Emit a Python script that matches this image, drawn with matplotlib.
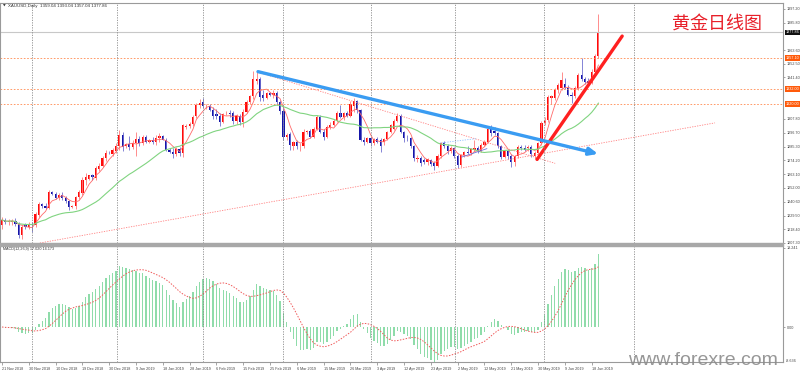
import numpy as np
import pandas as pd
import matplotlib
matplotlib.use("Agg")
import matplotlib.pyplot as plt
from matplotlib.transforms import blended_transform_factory

plt.rcParams['font.family'] = ['Liberation Sans', 'DejaVu Sans']

# XAUUSD daily bars, 21 Nov 2018 .. 20 Jun 2019
opens = [1221.5, 1226.0, 1224.0, 1224.5, 1225.5, 1223.0, 1214.0, 1221.5, 1220.0, 1223.0,
         1221.5, 1230.0, 1238.5, 1237.5, 1236.0, 1248.5, 1247.0, 1244.0, 1246.0, 1243.5,
         1241.0, 1236.5, 1237.0, 1244.5, 1248.0, 1258.0, 1259.5, 1262.0, 1260.0, 1267.5,
         1269.5, 1276.0, 1280.5, 1279.5, 1282.0, 1285.5, 1294.5, 1285.5, 1287.5, 1285.0,
         1288.5, 1291.5, 1288.5, 1293.0, 1289.0, 1290.5, 1289.5, 1292.5, 1294.0, 1291.0,
         1283.0, 1281.0, 1279.0, 1283.5, 1280.0, 1301.0, 1302.0, 1303.5, 1310.0, 1319.0,
         1321.5, 1318.0, 1318.5, 1315.0, 1312.0, 1310.0, 1305.5, 1312.5, 1312.5, 1312.5,
         1306.5, 1310.5, 1305.5, 1313.5, 1321.5, 1326.0, 1338.5, 1340.5, 1327.5, 1325.0,
         1328.5, 1327.5, 1329.0, 1321.5, 1314.5, 1293.0, 1295.5, 1286.0, 1289.0, 1285.5,
         1286.0, 1297.0, 1298.0, 1293.5, 1300.0, 1309.5, 1297.5, 1293.5, 1301.5, 1303.0,
         1306.5, 1313.0, 1309.5, 1312.5, 1310.5, 1318.5, 1322.0, 1315.0, 1291.0, 1289.5,
         1292.0, 1288.0, 1291.5, 1290.5, 1289.0, 1291.5, 1297.0, 1300.0, 1306.0, 1310.5,
         1297.0, 1292.5, 1292.0, 1285.5, 1275.5, 1276.0, 1274.5, 1273.0, 1274.5, 1272.0,
         1270.0, 1278.0, 1288.0, 1285.5, 1281.5, 1284.0, 1278.0, 1270.5, 1278.5, 1281.0,
         1280.0, 1283.0, 1284.0, 1282.0, 1287.0, 1289.5, 1300.0, 1298.0, 1296.5, 1285.5,
         1277.0, 1281.5, 1277.5, 1273.0, 1277.5, 1285.0, 1284.0, 1284.5, 1285.0, 1277.5,
         1280.5, 1288.5, 1304.5, 1307.0, 1325.0, 1324.5, 1331.5, 1332.5, 1336.0, 1333.0,
         1327.5, 1326.0, 1332.5, 1343.5, 1340.0, 1338.5, 1337.0, 1346.0, 1359.0]
highs = [1228.5, 1227.5, 1226.5, 1227.0, 1227.5, 1224.5, 1222.0, 1223.5, 1224.5, 1224.0,
         1232.5, 1240.5, 1240.0, 1239.5, 1250.0, 1249.5, 1249.0, 1247.5, 1248.5, 1245.5,
         1242.0, 1238.0, 1245.5, 1250.0, 1260.5, 1264.0, 1262.5, 1263.0, 1269.5, 1272.0,
         1278.0, 1282.5, 1281.5, 1284.0, 1288.0, 1299.0, 1297.5, 1288.5, 1294.0, 1290.5,
         1297.0, 1294.0, 1294.5, 1294.5, 1291.5, 1293.0, 1294.5, 1296.0, 1295.0, 1292.5,
         1284.5, 1284.0, 1285.0, 1285.0, 1303.5, 1304.0, 1305.0, 1311.0, 1321.0, 1324.0,
         1325.0, 1320.0, 1320.0, 1317.5, 1316.0, 1313.0, 1313.0, 1314.0, 1315.0, 1314.0,
         1312.0, 1311.5, 1316.0, 1323.0, 1327.0, 1346.5, 1347.0, 1342.0, 1331.5, 1330.0,
         1330.0, 1331.0, 1330.5, 1323.0, 1317.0, 1296.0, 1297.0, 1290.0, 1291.0, 1288.0,
         1299.5, 1299.0, 1299.5, 1301.0, 1311.0, 1311.0, 1300.0, 1302.5, 1305.5, 1307.5,
         1314.5, 1319.0, 1313.5, 1314.0, 1322.0, 1325.0, 1323.0, 1316.0, 1293.5, 1293.0,
         1293.5, 1292.5, 1293.0, 1292.5, 1292.0, 1298.0, 1303.5, 1307.5, 1312.5, 1311.5,
         1298.0, 1294.5, 1293.0, 1286.5, 1278.5, 1277.5, 1276.5, 1276.5, 1275.5, 1273.5,
         1279.0, 1289.0, 1290.0, 1287.5, 1285.5, 1285.0, 1279.5, 1279.5, 1282.0, 1286.0,
         1284.5, 1291.0, 1285.5, 1288.0, 1290.5, 1302.0, 1303.0, 1301.0, 1297.5, 1287.0,
         1283.0, 1283.0, 1279.0, 1278.5, 1286.5, 1287.0, 1286.5, 1286.5, 1286.5, 1282.0,
         1289.5, 1306.0, 1309.5, 1327.0, 1327.5, 1333.0, 1336.5, 1346.0, 1341.0, 1335.5,
         1330.0, 1334.5, 1345.0, 1357.0, 1342.0, 1341.0, 1348.0, 1360.5, 1393.0]
lows = [1219.0, 1222.5, 1222.0, 1222.0, 1221.0, 1211.5, 1210.5, 1218.5, 1219.0, 1216.0,
        1220.0, 1228.5, 1236.0, 1234.5, 1235.0, 1246.5, 1243.0, 1242.0, 1242.5, 1239.5,
        1234.0, 1235.5, 1235.0, 1243.0, 1246.0, 1254.0, 1258.0, 1258.0, 1258.5, 1266.0,
        1268.5, 1274.0, 1279.0, 1278.0, 1280.0, 1283.0, 1282.0, 1284.5, 1283.0, 1283.5,
        1278.0, 1286.0, 1287.0, 1288.0, 1288.0, 1287.5, 1287.0, 1289.0, 1290.5, 1282.0,
        1280.0, 1276.5, 1277.5, 1278.0, 1277.0, 1299.5, 1300.5, 1302.0, 1308.5, 1317.0,
        1316.5, 1316.0, 1314.0, 1308.0, 1307.5, 1302.0, 1304.5, 1311.0, 1309.0, 1304.0,
        1304.0, 1303.0, 1301.0, 1312.5, 1320.0, 1324.0, 1336.0, 1322.0, 1322.5, 1324.0,
        1326.5, 1325.0, 1319.0, 1312.0, 1290.5, 1291.0, 1283.0, 1283.0, 1283.5, 1281.5,
        1284.0, 1295.5, 1292.0, 1292.0, 1299.0, 1296.0, 1291.0, 1292.0, 1300.0, 1302.0,
        1305.0, 1308.5, 1307.0, 1309.5, 1309.0, 1313.5, 1313.0, 1290.0, 1287.0, 1288.0,
        1286.0, 1286.5, 1288.5, 1281.0, 1286.5, 1290.5, 1296.0, 1299.0, 1305.0, 1296.0,
        1289.5, 1290.0, 1284.5, 1274.0, 1273.0, 1270.0, 1271.0, 1270.5, 1270.0, 1266.5,
        1269.0, 1276.5, 1284.0, 1279.5, 1280.0, 1276.5, 1268.0, 1268.5, 1277.0, 1279.0,
        1278.5, 1281.5, 1280.5, 1281.0, 1285.5, 1288.0, 1294.0, 1295.0, 1284.5, 1275.0,
        1276.0, 1275.5, 1269.0, 1270.0, 1276.5, 1282.5, 1281.5, 1282.0, 1277.0, 1275.0,
        1279.0, 1287.0, 1303.0, 1305.5, 1320.0, 1323.0, 1329.0, 1331.5, 1332.0, 1326.0,
        1320.5, 1324.5, 1331.0, 1338.5, 1336.0, 1335.5, 1336.0, 1344.5, 1357.0]
closes = [1226.0, 1224.0, 1225.0, 1225.5, 1223.0, 1214.0, 1220.5, 1220.0, 1223.0, 1221.5,
          1231.0, 1239.0, 1237.0, 1236.0, 1248.5, 1247.0, 1244.0, 1246.0, 1243.5, 1241.0,
          1236.5, 1237.5, 1244.5, 1248.5, 1258.5, 1261.0, 1262.0, 1260.5, 1268.0, 1270.0,
          1276.5, 1280.5, 1280.0, 1282.5, 1286.0, 1294.5, 1285.0, 1287.5, 1285.0, 1288.5,
          1291.5, 1288.5, 1293.0, 1289.0, 1290.5, 1289.5, 1292.5, 1294.0, 1291.0, 1283.0,
          1281.0, 1279.0, 1283.5, 1280.0, 1302.5, 1302.0, 1303.5, 1309.5, 1319.0, 1320.5,
          1318.0, 1318.5, 1315.0, 1310.5, 1310.0, 1305.5, 1312.0, 1313.0, 1311.5, 1306.5,
          1310.5, 1305.5, 1313.5, 1321.5, 1326.5, 1340.0, 1340.5, 1325.5, 1325.0, 1328.5,
          1327.5, 1329.0, 1321.5, 1314.5, 1293.0, 1294.5, 1286.5, 1289.0, 1285.5, 1286.0,
          1297.5, 1298.0, 1293.5, 1300.0, 1309.5, 1297.5, 1293.5, 1301.5, 1303.0, 1306.5,
          1313.0, 1309.5, 1312.5, 1310.5, 1320.0, 1322.0, 1315.0, 1291.0, 1289.5, 1292.0,
          1288.0, 1291.5, 1289.5, 1286.0, 1291.5, 1297.0, 1302.5, 1306.0, 1310.5, 1297.5,
          1292.5, 1292.0, 1285.5, 1276.0, 1276.5, 1272.0, 1273.0, 1275.5, 1271.5, 1270.0,
          1278.0, 1288.0, 1285.5, 1281.5, 1284.0, 1278.0, 1270.5, 1278.5, 1281.0, 1280.0,
          1283.5, 1284.0, 1282.0, 1287.0, 1289.5, 1300.0, 1296.0, 1296.5, 1285.5, 1277.0,
          1281.5, 1277.5, 1273.0, 1277.5, 1285.0, 1284.0, 1283.0, 1285.0, 1279.0, 1280.5,
          1288.5, 1304.5, 1306.5, 1325.5, 1326.5, 1331.5, 1335.5, 1339.5, 1333.0, 1327.5,
          1326.0, 1332.5, 1343.5, 1340.0, 1338.0, 1337.0, 1346.0, 1358.5, 1377.86]

date_labels = ["21 Nov 2018", "30 Nov 2018", "10 Dec 2018", "19 Dec 2018", "30 Dec 2018",
               "9 Jan 2019", "18 Jan 2019", "28 Jan 2019", "6 Feb 2019", "15 Feb 2019",
               "25 Feb 2019", "6 Mar 2019", "15 Mar 2019", "26 Mar 2019", "3 Apr 2019",
               "12 Apr 2019", "23 Apr 2019", "2 May 2019", "12 May 2019", "21 May 2019",
               "30 May 2019", "9 Jun 2019", "18 Jun 2019"]
date_bars = [0, 8, 16, 24, 32, 40, 48, 56, 64, 72, 80, 88, 96, 104, 112, 120, 128,
             136, 144, 152, 160, 168, 176]
grid_bars = [9.0, 34.2, 60.1, 84.0, 110.1, 135.1, 161.8, 188.7]
# 1318.90 / 1330.00 sit under the orange level boxes
price_ticks = [1207.30, 1218.40, 1229.50, 1240.60, 1252.00, 1263.10, 1274.20, 1285.30,
               1296.70, 1307.80, 1341.40, 1352.50, 1363.60, 1385.80, 1397.20]
levels = [1357.10, 1332.00, 1320.00]
last_price = 1377.86

# hand drawn objects: (bar, price) pairs
blue_trend = [(76.4, 1346.1), (177.9, 1279.5)]
red_arrow = [(159.7, 1275.0), (185.1, 1374.9)]
peak_line = [(76.4, 1345.7), (165.1, 1271.8)]
support_line = [(11.3, 1207.3), (212.8, 1304.6)]
chan_top = [(130.7, 1288.3), (141.7, 1291.9)]
chan_bot = [(137.2, 1276.9), (144.7, 1283.7)]

W, H = 800, 376
TXT = 2.7


def rect(x0, y0, x1, y1):
    return [x0 / W, 1 - y1 / H, (x1 - x0) / W, (y1 - y0) / H]


def main():
    o = np.array(opens)
    h = np.array(highs)
    l = np.array(lows)
    c = np.array(closes)
    x = np.arange(len(c))
    up = c >= o

    fig = plt.figure(figsize=(W / 100, H / 100), dpi=100)
    ax = fig.add_axes(rect(0, 3, 783, 243))
    ax2 = fig.add_axes(rect(0, 246, 783, 362))
    fig.patches.append(plt.Rectangle((0, 1 - 246 / H), 783 / W, 3 / H,
                                     transform=fig.transFigure, color="#a8a8a8"))

    # candles
    ax.vlines(x[up], l[up], h[up], color="#ff7a7a", lw=0.6)
    ax.vlines(x[~up], l[~up], h[~up], color="#7070d0", lw=0.6)
    body = np.maximum(np.abs(c - o), 0.5)
    ax.bar(x[up], body[up], bottom=np.minimum(o, c)[up], width=0.66, color="#ff0a0a", lw=0)
    ax.bar(x[~up], body[~up], bottom=np.minimum(o, c)[~up], width=0.66, color="#1515a8", lw=0)

    s = pd.Series(c)
    ax.plot(x, s.rolling(5, min_periods=1).mean(), color="#ff6a6a", lw=0.6)
    ax.plot(x, s.rolling(25, min_periods=1).mean(), color="#80d480", lw=0.8)

    for lv in levels:
        ax.axhline(lv, color="#ff8a50", lw=0.6, ls=(0, (2, 2)))
    ax.axhline(last_price, color="#c8c8c8", lw=0.8)

    for line, col, st in [(peak_line, "#ff8080", (0, (1.5, 1.5))),
                          (support_line, "#ff8080", (0, (1.5, 1.5))),
                          (chan_top, "#90c0ff", (0, (1.5, 1.5))),
                          (chan_bot, "#6f6fd8", "-")]:
        ax.plot([line[0][0], line[1][0]], [line[0][1], line[1][1]], color=col, lw=0.6, ls=st)

    ax.annotate("", xy=blue_trend[1], xytext=blue_trend[0],
                arrowprops=dict(arrowstyle="-|>,head_length=0.5,head_width=0.22",
                                color="#3a9cf2", lw=2.4, shrinkA=0, shrinkB=0))
    ax.plot([red_arrow[0][0], red_arrow[1][0]], [red_arrow[0][1], red_arrow[1][1]],
            color="#ff2020", lw=2.4, solid_capstyle="round")

    # MACD(12,26,9)
    macd = s.ewm(span=12, adjust=False).mean() - s.ewm(span=26, adjust=False).mean()
    signal = macd.rolling(9, min_periods=1).mean()
    ax2.bar(x, macd, width=0.38, color="#8fdcaa", lw=0)
    ax2.plot(x, signal, color="#f05a5a", lw=0.7, ls=(0, (1.5, 1.5)))

    for a in (ax, ax2):
        a.set_xlim(-0.6, 233.1)
        for g in grid_bars:
            a.axvline(g, color="#8a8a8a", lw=0.6, ls=(0, (1.5, 1.5)))
        for sp in a.spines.values():
            sp.set_color("#9a9a9a")
            sp.set_linewidth(0.8)
        a.yaxis.tick_right()
        a.tick_params(axis="y", direction="out", length=1.5, width=0.5, color="#808080",
                      pad=1, labelsize=TXT, labelcolor="#444444")

    ax.set_ylim(1207.3, 1401.7)
    ax.set_yticks(price_ticks)
    ax.set_yticklabels(["%.2f" % p for p in price_ticks])
    ax.set_xticks([])
    ax.spines["bottom"].set_visible(False)

    ax2.set_ylim(-8.08, 18.70)
    ax2.set_yticks([18.241, 0.0])
    ax2.set_yticklabels(["18.241", "0.00"])
    ax2.spines["top"].set_visible(False)
    ax2.set_xticks(date_bars)
    ax2.set_xticklabels(date_labels)
    ax2.tick_params(axis="x", direction="out", length=2, width=0.5, color="#808080",
                    pad=1.5, labelsize=TXT, labelcolor="#444444")
    for t in ax2.get_xticklabels():
        t.set_ha("left")

    # price boxes on the right scale
    tr = blended_transform_factory(ax.transAxes, ax.transData)
    for lv in levels:
        ax.text(1.003, lv, "%.2f" % lv, transform=tr, fontsize=TXT, color="white",
                va="center", ha="left", zorder=5,
                bbox=dict(boxstyle="square,pad=0.2", fc="#ff5a0a", ec="none"))
    ax.text(1.003, last_price, "%.2f" % last_price, transform=tr, fontsize=TXT,
            color="white", va="center", ha="left", zorder=5,
            bbox=dict(boxstyle="square,pad=0.2", fc="#101010", ec="none"))
    fig.text(786 / W, 1 - 361 / H, "-8.636", fontsize=TXT, color="#444444", va="center")

    fig.text(3 / W, 1 - 6 / H, "\u25bc", fontsize=2.5, color="#333333", va="center",
             family=["DejaVu Sans"])
    fig.text(8 / W, 1 - 6 / H, "XAUUSD,Daily  1359.04 1393.04 1357.04 1377.86",
             fontsize=3.2, color="#333333", va="center")
    fig.text(3 / W, 1 - 249 / H, "MACD(12,26,9) 17.020 14.173", fontsize=TXT,
             color="#333333", va="center")

    fig.text(717 / W, 1 - 24 / H, "黄金日线图", fontsize=13, color="#e8202a",
             ha="center", va="center", family=["Noto Sans CJK SC", "DejaVu Sans"])
    fig.text(628 / W, 1 - 365 / H, "www.forexre.com", fontsize=14, color="#8c8c8c",
             ha="left", va="baseline", alpha=0.9)

    fig.savefig("out.png", dpi=100)


if __name__ == '__main__': main()
